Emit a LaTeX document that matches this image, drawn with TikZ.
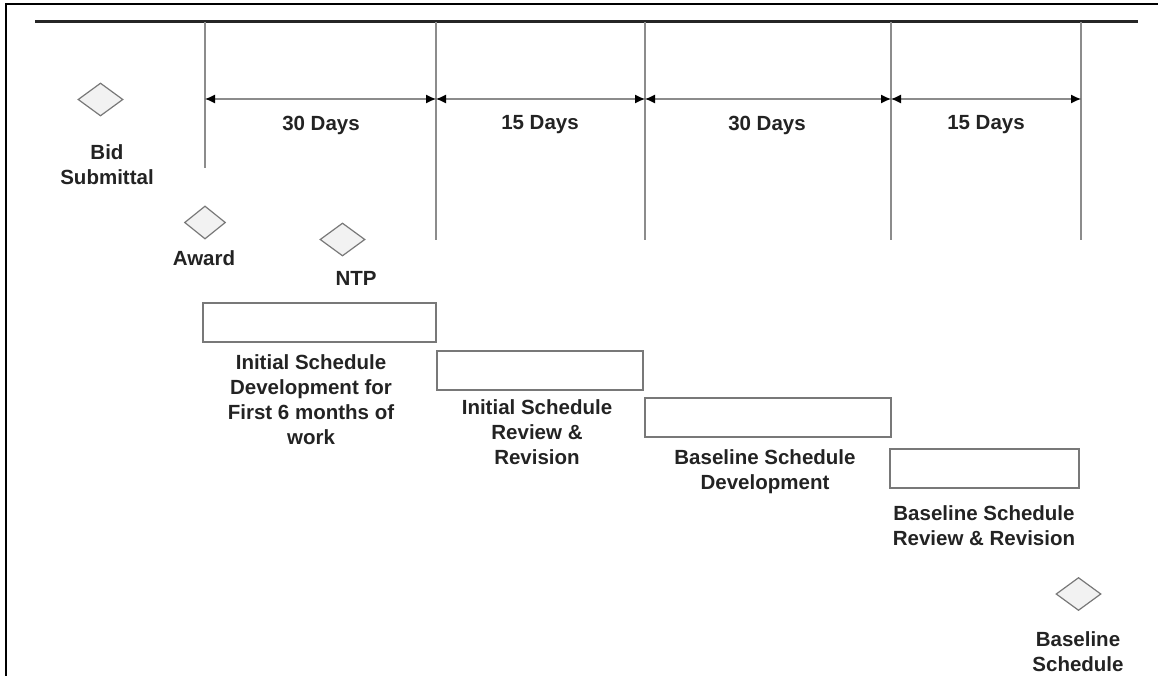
\documentclass[tikz,border=0pt]{standalone}
\usepackage{fontspec}
\setmainfont{Liberation Sans}
\usetikzlibrary{shapes.geometric,arrows.meta}
\definecolor{txtc}{RGB}{35,35,35}
\definecolor{linec}{RGB}{140,140,140}
\definecolor{boxc}{RGB}{120,120,120}
\definecolor{dfill}{RGB}{242,242,242}
\tikzset{
  lbl/.style={font=\fontsize{20.5}{25}\selectfont\bfseries, text=txtc, align=center, inner sep=0pt},
  milestone/.style={diamond, draw=boxc, fill=dfill, line width=1.2pt, inner sep=0pt, minimum width=45pt, minimum height=33pt},
  bar/.style={draw=boxc, line width=1.3pt, fill=white},
  vline/.style={draw=linec, line width=1.3pt},
  dim/.style={draw=linec, line width=1.2pt, {Latex[length=10pt,width=9pt,black]}-{Latex[length=10pt,width=9pt,black]}},
}
\begin{document}
\begin{tikzpicture}[x=1pt,y=-1pt]
\useasboundingbox (0,0) rectangle (1158,676);
% frame
\coordinate (fl) at (5.5,676);
\coordinate (ftl) at (5.5,4.5);
\coordinate (ftr) at (1158,4.5);
\draw[line width=2pt, black] (fl) -- (ftl) -- (ftr);
% timeline
\coordinate (tl) at (35,22);
\coordinate (tr) at (1138,22);
\draw[line width=3pt, black!85] (tl) -- (tr);
% verticals
\foreach \i/\x/\yb in {1/205/168, 2/436/240, 3/645/240, 4/891/240, 5/1081/240}{
  \coordinate (vt\i) at (\x,22);
  \coordinate (vb\i) at (\x,\yb);
  \coordinate (a\i) at (\x,99);
  \draw[vline] (vt\i) -- (vb\i);
}
% dimension arrows
\draw[dim] (a1) -- (a2);
\draw[dim] (a2) -- (a3);
\draw[dim] (a3) -- (a4);
\draw[dim] (a4) -- (a5);
\node[lbl] (d1) at (321,125) {30 Days};
\node[lbl] (d2) at (540,125) {15 Days};
\node[lbl] (d3) at (767,125) {30 Days};
\node[lbl] (d4) at (986,125) {15 Days};
% milestones
\node[milestone] (bid) at (100.5,99.5) {};
\node[lbl] (bidt) at (107,164.5) {Bid\\Submittal};
\node[milestone, minimum width=41pt] (award) at (205,222.5) {};
\node[lbl] (awardt) at (204,258) {Award};
\node[milestone] (ntp) at (342.5,239.5) {};
\node[lbl] (ntpt) at (356,278) {NTP};
\node[milestone] (base) at (1078.5,594) {};
\node[lbl] (baset) at (1078,652) {Baseline\\Schedule};
% bars
\draw[bar] (203,303) rectangle (436,342);
\node[lbl] (b1t) at (311,399.5) {Initial Schedule\\Development for\\First 6 months of\\work};
\draw[bar] (437,351) rectangle (643,390);
\node[lbl] (b2t) at (537,432.5) {Initial Schedule\\Review \&\\Revision};
\draw[bar] (645,398) rectangle (891,437);
\node[lbl] (b3t) at (765,471.5) {Baseline Schedule\\Development};
\draw[bar] (890,449) rectangle (1079,488);
\node[lbl] (b4t) at (984,526) {Baseline Schedule\\Review \& Revision};
\end{tikzpicture}
\end{document}
